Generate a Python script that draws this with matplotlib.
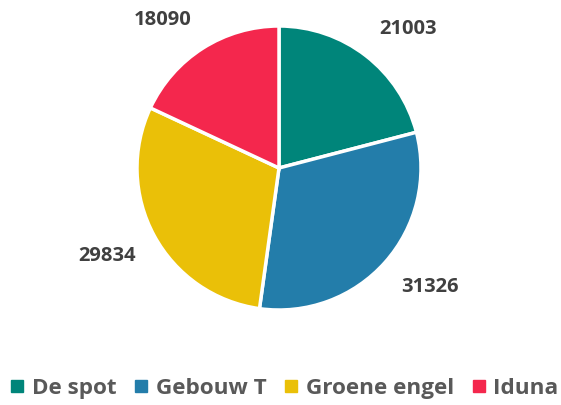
import matplotlib.pyplot as plt
from matplotlib.lines import Line2D

venues = ['De spot', 'Gebouw T', 'Groene engel', 'Iduna']
visitors = [21003, 31326, 29834, 18090]
colors = ['#00857A', '#237DAA', '#EAC008', '#F4274D']

plt.rcParams['font.family'] = ['Open Sans', 'DejaVu Sans']

fig = plt.figure(figsize=(5.61, 4.05), dpi=100)
ax = fig.add_axes([(279 - 142) / 561, (405 - 168 - 142) / 405, 284 / 561, 284 / 405])

wedges, texts, autotexts = ax.pie(
    visitors, colors=colors, startangle=90, counterclock=False,
    wedgeprops=dict(edgecolor='white', linewidth=2.5),
    autopct=lambda p: '{:.0f}'.format(p * sum(visitors) / 100),
    pctdistance=1.15, radius=1.0)
# anchor labels by their nearest corner, like excel's outside end labels
for t in autotexts:
    x, y = t.get_position()
    t.set_ha('left' if x > 0 else 'right')
    t.set_va('bottom' if y > 0 else 'top')
    t.set_fontsize(14.5)
    t.set_fontweight('bold')
    t.set_color('#404040')
ax.set_xlim(-1, 1)
ax.set_ylim(-1, 1)
ax.set_aspect('equal')

handles = [Line2D([], [], marker='s', linestyle='none', markersize=8.5,
                  markerfacecolor=c, markeredgecolor=c) for c in colors]
leg = fig.legend(handles, venues, loc='center', bbox_to_anchor=(0.505, 0.04),
                 ncol=4, frameon=False, handletextpad=0.25, columnspacing=0.7,
                 handlelength=0.8, prop=dict(size=16.2, weight='bold'))
for t in leg.get_texts():
    t.set_color('#595959')

fig.savefig('out.png', dpi=100)
